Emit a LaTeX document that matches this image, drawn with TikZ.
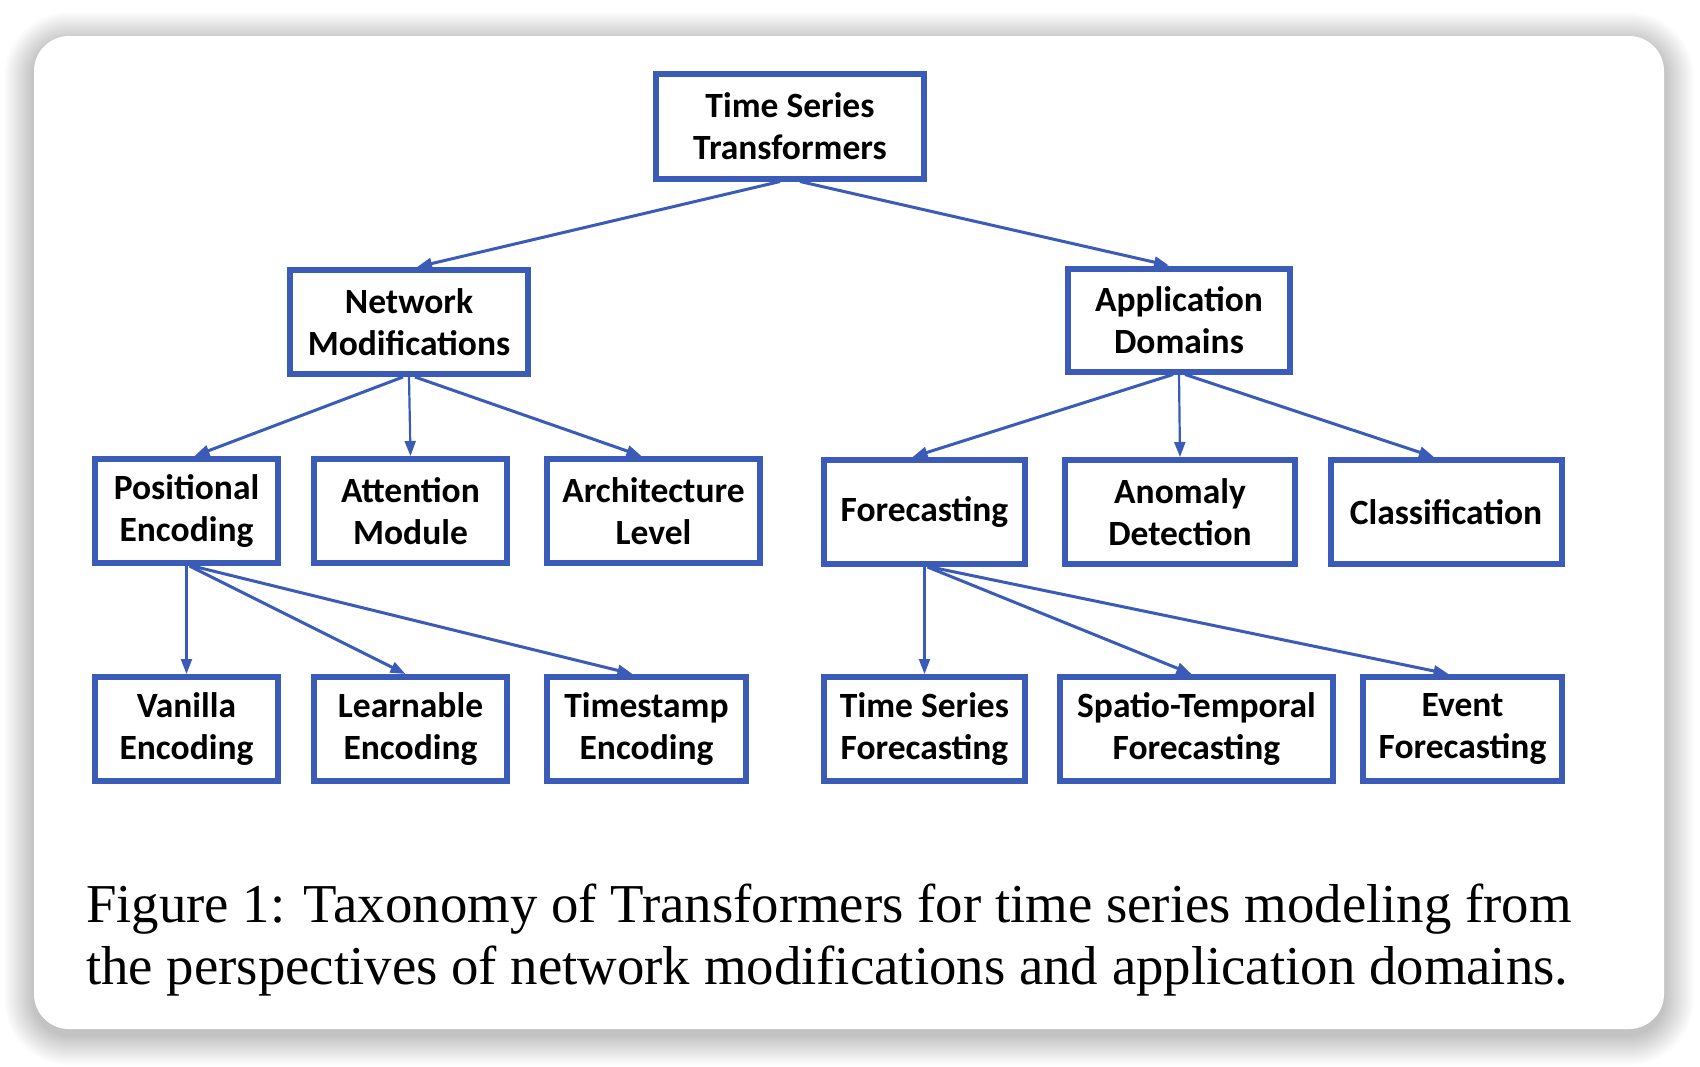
\documentclass[tikz,border=0pt]{standalone}
\usepackage{fontspec}
\setmainfont{Liberation Serif}
\newfontfamily\boxfont{Carlito}
\usepackage{tikz}
\usetikzlibrary{arrows.meta}

\definecolor{tsblue}{RGB}{58,92,184}

\begin{document}
\begin{tikzpicture}[
        x=1pt, y=-1pt,
        box/.style={draw=tsblue, line width=6pt, fill=white, align=center,
            minimum height=104pt, inner sep=0pt,
            font=\boxfont\bfseries\fontsize{35.5}{41.5}\selectfont},
        link/.style={draw=tsblue, line width=3pt, -{Triangle[length=15pt,width=11pt]}},
        caption_text/.style={anchor=base west, inner sep=0pt,
            font=\fontsize{54.8}{62}\selectfont}
    ]

    \useasboundingbox (0,0) rectangle (1700,1066);

    % --- Card with soft shadow ---
    \foreach \i in {1,...,30} {
        \pgfmathsetmacro\rad{35+\i}
        \fill[black, opacity=0.006, rounded corners=\rad pt]
            (34-\i,36-\i+6) rectangle (1664+\i,1029+\i+6);
    }
    \fill[white, rounded corners=35pt] (34,36) rectangle (1664,1029);

    % --- Define Nodes ---
    \node[box, minimum width=268pt, minimum height=105pt] (tst) at (790,126) {Time Series\\Transformers};

    % Level 1
    \node[box, minimum width=238pt] (netmod) at (409,322) {Network\\Modifications};
    \node[box, minimum width=222pt, minimum height=103pt] (appdom) at (1179,320) {Application\\Domains};

    % Level 2
    \node[box, minimum width=183pt] (posenc) at (186.5,511) {Positional\\Encoding};
    \node[box, minimum width=193pt] (attmod) at (410.5,511) {Attention\\Module};
    \node[box, minimum width=213pt] (archlev) at (653.5,511) {Architecture\\Level};
    \node[box, minimum width=201pt] (fcast) at (924.5,512) {Forecasting};
    \node[box, minimum width=230pt] (anomaly) at (1180,512) {Anomaly\\Detection};
    \node[box, minimum width=231pt] (classif) at (1446,512) {Classification};

    % Level 3
    \node[box, minimum width=183pt] (vanilla) at (186.5,729) {Vanilla\\Encoding};
    \node[box, minimum width=193pt] (learn) at (410.5,729) {Learnable\\Encoding};
    \node[box, minimum width=199pt] (tstamp) at (646.5,729) {Timestamp\\Encoding};
    \node[box, minimum width=201pt] (tsfcast) at (924.5,729) {Time Series\\Forecasting};
    \node[box, minimum width=273pt] (stfcast) at (1196.5,729) {Spatio-Temporal\\Forecasting};
    \node[box, minimum width=199pt] (evfcast) at (1462.5,729) {Event\\Forecasting};

    % --- Draw Connectors ---

    % From the root
    \draw[link] ([xshift=-10pt]tst.south) -- ([xshift=8pt]netmod.north);
    \draw[link] ([xshift=10pt]tst.south) -- ([xshift=-10pt]appdom.north);

    % Network modifications
    \draw[link] ([xshift=-6pt]netmod.south) -- ([xshift=8pt]posenc.north);
    \draw[link, line width=2.2pt] (netmod.south) -- (attmod.north);
    \draw[link] ([xshift=6pt]netmod.south) -- ([xshift=-12pt]archlev.north);

    % Application domains
    \draw[link] ([xshift=-6pt]appdom.south) -- ([xshift=-12pt]fcast.north);
    \draw[link, line width=2.2pt] (appdom.south) -- (anomaly.north);
    \draw[link] ([xshift=6pt]appdom.south) -- ([xshift=-12pt]classif.north);

    % Positional encoding
    \draw[link, line width=2.2pt] (posenc.south) -- (vanilla.north);
    \draw[link] ([xshift=3pt]posenc.south) -- ([xshift=-5pt]learn.north);
    \draw[link] ([xshift=6pt]posenc.south) -- ([xshift=-14pt]tstamp.north);

    % Forecasting
    \draw[link, line width=2.2pt] (fcast.south) -- (tsfcast.north);
    \draw[link] ([xshift=3pt]fcast.south) -- ([xshift=-5pt]stfcast.north);
    \draw[link] ([xshift=6pt]fcast.south) -- ([xshift=-14pt]evfcast.north);

    % --- Caption ---
    \node[caption_text] (cap1) at (86,922) {Figure 1: Taxonomy of Transformers for time series modeling from};
    \node[caption_text] (cap2) at (86,984) {the perspectives of network modifications and application domains.};

\end{tikzpicture}
\end{document}
